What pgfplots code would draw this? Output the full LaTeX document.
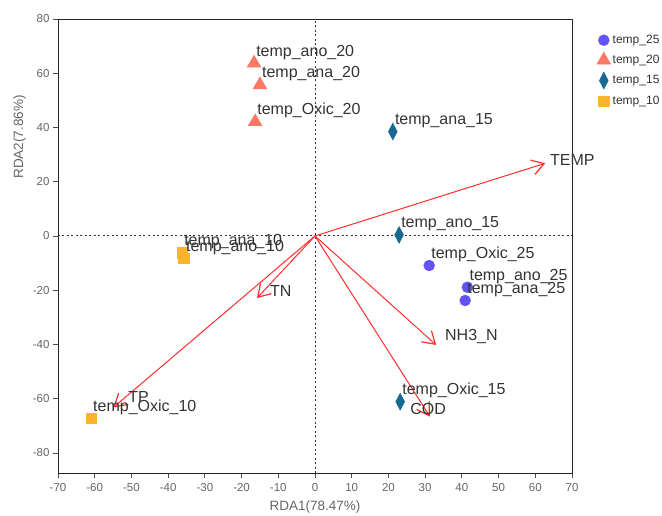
\documentclass[border=0pt]{standalone}
\usepackage{fontspec}
\setmainfont{Liberation Sans}
\usepackage{pgfplots}
\pgfplotsset{compat=1.18}
\usetikzlibrary{arrows.meta}
\definecolor{c25}{RGB}{98,83,244}
\definecolor{c20}{RGB}{250,120,100}
\definecolor{c15}{RGB}{23,105,145}
\definecolor{c10}{RGB}{250,180,45}
\definecolor{arr}{RGB}{255,45,45}
\definecolor{txt}{RGB}{51,51,51}
\definecolor{tickc}{RGB}{102,102,102}
\begin{document}
\begin{tikzpicture}[x=1pt,y=1pt]
\path[use as bounding box] (0,0) rectangle (662,515);
\begin{axis}[
  at={(58pt,42pt)}, anchor=south west,
  scale only axis, width=514pt, height=454pt,
  xmin=-70, xmax=70, ymin=-87.4, ymax=80,
  xtick={-70,-60,...,70}, ytick={-80,-60,...,80},
  tick label style={font=\fontsize{11.5}{13}\selectfont, text=tickc},
  xticklabel style={yshift=-1.5pt},
  /pgf/number format/assume math mode=true,
  axis line style={black!85, line width=0.9pt},
  tick style={black!70, line width=0.8pt},
  major tick length=5pt, tick align=outside, tick pos=left,
  xlabel={RDA1(78.47\%)}, ylabel={RDA2(7.86\%)},
  label style={font=\fontsize{13.5}{16}\selectfont, text=tickc},
  xlabel style={yshift=-3pt},
  ylabel style={at={(ticklabel cs:0.74)}},
  clip=false,
  legend style={draw=none, fill=none, at={(1.048,0.969)}, anchor=north west,
    font=\fontsize{12}{14}\selectfont, text=txt, row sep=5pt, inner sep=0pt},
  legend cell align=left,
  legend image code/.code={\draw[mark repeat=2,mark phase=2,#1] plot coordinates {(0pt,0pt)(6pt,0pt)(14pt,0pt)};},
  nodes near coords,
  point meta=explicit symbolic,
  every node near coord/.style={anchor=west, inner sep=0pt, xshift=2pt, yshift=11pt,
    font=\fontsize{16}{19}\selectfont, text=txt},
]
% zero lines
\addplot[forget plot, no marks, nodes near coords={}, black!80, line width=1pt, dash pattern=on 2pt off 2.5pt] coordinates {(0,-87.4) (0,80)};
\addplot[forget plot, no marks, nodes near coords={}, black!80, line width=1pt, dash pattern=on 2pt off 2.5pt] coordinates {(-70,0) (70,0)};
% arrows
\addplot[forget plot, no marks, nodes near coords={}, arr, line width=1pt, -{Straight Barb[length=12pt,width=15pt,line width=1.2pt]}] coordinates {(0,0) (62.7,26.8)};
\addplot[forget plot, no marks, nodes near coords={}, arr, line width=1pt, -{Straight Barb[length=12pt,width=15pt,line width=1.2pt]}] coordinates {(0,0) (-15.8,-22.9)};
\addplot[forget plot, no marks, nodes near coords={}, arr, line width=1pt, -{Straight Barb[length=12pt,width=15pt,line width=1.2pt]}] coordinates {(0,0) (33.0,-40.2)};
\addplot[forget plot, no marks, nodes near coords={}, arr, line width=1pt, -{Straight Barb[length=12pt,width=15pt,line width=1.2pt]}] coordinates {(0,0) (31.3,-66.6)};
\addplot[forget plot, no marks, nodes near coords={}, arr, line width=1pt, -{Straight Barb[length=12pt,width=15pt,line width=1.2pt]}] coordinates {(0,0) (-54.9,-63.2)};
% samples
\addplot[only marks, mark=*, mark size=5.5pt, color=c25, mark options={draw=c25, fill=c25}]
 coordinates {(31.1,-10.9) [temp\_Oxic\_25] (41.5,-18.9) [temp\_ano\_25] (40.9,-23.8) [temp\_ana\_25]};
\addlegendentry{temp\_25}
\addplot[only marks, mark=triangle*, mark size=8pt, color=c20, mark options={draw=c20, fill=c20}]
 coordinates {(-16.6,63.7) [temp\_ano\_20] (-15.0,55.7) [temp\_ana\_20] (-16.3,42.1) [temp\_Oxic\_20]};
\addlegendentry{temp\_20}
\addplot[only marks, mark=diamond*, mark size=8.5pt, color=c15, mark options={draw=c15, fill=c15, xscale=0.7}]
 coordinates {(21.2,38.5) [temp\_ana\_15] (22.9,0.4) [temp\_ano\_15] (23.2,-61.1) [temp\_Oxic\_15]};
\addlegendentry{temp\_15}
\addplot[only marks, mark=square*, mark size=5.3pt, color=c10, mark options={draw=c10, fill=c10}]
 coordinates {(-36.2,-6.2) [temp\_ana\_10] (-35.7,-8.2) [temp\_ano\_10] (-61.0,-67.2) [temp\_Oxic\_10]};
\addlegendentry{temp\_10}
% arrow labels
\node[anchor=west, inner sep=0pt, font=\fontsize{16}{19}\selectfont, text=txt] at (axis cs:64.0,28.0) {TEMP};
\node[anchor=west, inner sep=0pt, font=\fontsize{16}{19}\selectfont, text=txt] at (axis cs:-12.3,-20.3) {TN};
\node[anchor=west, inner sep=0pt, font=\fontsize{16}{19}\selectfont, text=txt] at (axis cs:35.4,-37.2) {NH3\_N};
\node[anchor=west, inner sep=0pt, font=\fontsize{16}{19}\selectfont, text=txt] at (axis cs:25.9,-63.8) {COD};
\node[anchor=west, inner sep=0pt, font=\fontsize{16}{19}\selectfont, text=txt] at (axis cs:-50.9,-59.4) {TP};
\end{axis}
\end{tikzpicture}
\end{document}
